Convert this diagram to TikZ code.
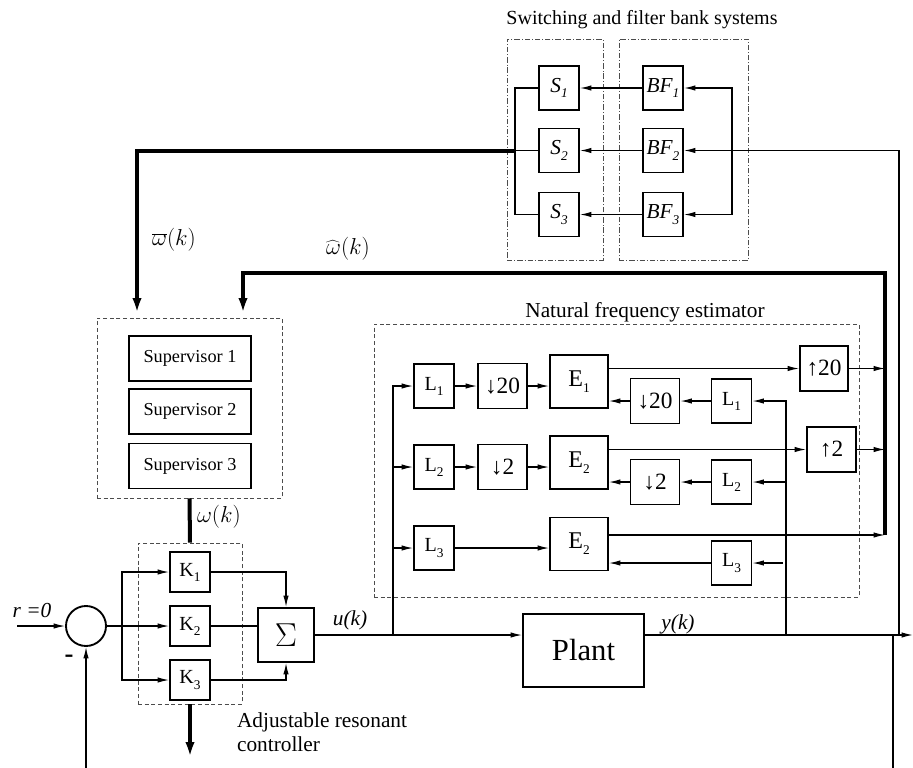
\documentclass[tikz,border=0pt]{standalone}
\usepackage{fontspec}
\setmainfont{Liberation Serif}
\usetikzlibrary{arrows.meta}
\newcommand\lsub[1]{\raisebox{-0.55ex}{\fontsize{10}{11}\selectfont #1}}

\begin{document}
\begin{tikzpicture}[x=0.75pt,y=-0.75pt,line width=0.9pt,
  >={Latex[length=8.5pt,width=4pt]},
  blk/.style={draw,line width=1.4pt,inner sep=0pt,font=\fontsize{15}{17}\selectfont},
  lbox/.style={blk,minimum width=30pt,minimum height=33pt},
  kbox/.style={blk,minimum width=30pt,minimum height=30pt},
  ebox/.style={blk,minimum width=43.5pt,minimum height=39.75pt,font=\fontsize{18}{20}\selectfont},
  rbox/.style={blk,minimum width=36.75pt,minimum height=33.75pt,font=\fontsize{17.5}{20}\selectfont},
  sbox/.style={blk,minimum width=30pt,minimum height=33pt,font=\fontsize{16}{18}\selectfont\itshape},
  supbox/.style={blk,minimum width=91.5pt,minimum height=33.75pt,font=\fontsize{13.7}{16}\selectfont},
  grp/.style={draw=gray!60!black,line width=0.7pt,dash pattern=on 3pt off 2pt,inner sep=0pt},
  ddgrp/.style={draw=gray!60!black,line width=0.7pt,dash pattern=on 4pt off 1.5pt on 0.7pt off 1.5pt,inner sep=0pt},
  bus/.style={line width=3pt},
  busarr/.style={bus,-{Latex[length=15pt,width=6.5pt]}},
  lbl/.style={font=\fontsize{16}{18}\selectfont}]

\useasboundingbox (0,0) rectangle (913,767);

% switching and filter bank
\node[lbl,font=\fontsize{15}{17}\selectfont] (ttlsw) at (642,20) {Switching and filter bank systems};
\node[ddgrp,minimum width=72pt,minimum height=165.75pt] (swgrp) at (555,149.5) {};
\node[ddgrp,minimum width=96.75pt,minimum height=165.75pt] (bfgrp) at (683.5,149.5) {};
\node[sbox] (S1) at (559,88) {S\lsub{1}};
\node[sbox] (S2) at (559,150.5) {S\lsub{2}};
\node[sbox] (S3) at (559,214.5) {S\lsub{3}};
\node[sbox] (BF1) at (663,88) {BF\lsub{1}};
\node[sbox] (BF2) at (663,150.5) {BF\lsub{2}};
\node[sbox] (BF3) at (663,214.5) {BF\lsub{3}};
\coordinate (sbus) at (515,150.5);
\coordinate (bfbus) at (732,150.5);
\draw (sbus) |- (S1.west);
\draw (sbus) -- (S2.west);
\draw (sbus) |- (S3.west);
\draw[->] (BF1.west) -- (S1.east);
\draw[->] (BF2.west) -- (S2.east);
\draw[->] (BF3.west) -- (S3.east);
\draw[->] (bfbus) |- (BF1.east);
\draw[->] (bfbus) |- (BF3.east);

% supervisors
\node[grp,minimum width=138.75pt,minimum height=135pt] (supgrp) at (189.5,408) {};
\node[supbox] (sup1) at (190,358.5) {Supervisor 1};
\node[supbox] (sup2) at (190,411.5) {Supervisor 2};
\node[supbox] (sup3) at (190,466) {Supervisor 3};
\coordinate (supA) at (137,318);
\coordinate (supB) at (243,318);
\draw[busarr] (sbus) -| (supA);
\node[lbl] (wbar) at (174,240) {$\overline{\omega}(k)$};
\node[lbl] (what) at (348,249) {$\widehat{\omega}(k)$};

% natural frequency estimator
\node[lbl] (ttlest) at (645,312) {Natural frequency estimator};
\node[grp,minimum width=363.75pt,minimum height=204.75pt] (estgrp) at (616.5,460.5) {};
\node[lbox] (L1) at (434,386) {L\lsub{1}};
\node[lbox] (L2) at (434,467) {L\lsub{2}};
\node[lbox] (L3) at (434,548) {L\lsub{3}};
\node[rbox] (dn20) at (502.5,386) {↓20};
\node[rbox] (dn2) at (502.5,467) {↓2};
\node[ebox] (E1) at (579,381.5) {E\lsub{1}};
\node[ebox] (E2) at (579,462.5) {E\lsub{2}};
\node[ebox] (E3) at (579,544) {E\lsub{2}};
\node[rbox] (dn20r) at (655,401) {↓20};
\node[rbox] (dn2r) at (655,482) {↓2};
\node[lbox] (L1r) at (731.5,401) {L\lsub{1}};
\node[lbox] (L2r) at (731.5,482) {L\lsub{2}};
\node[lbox] (L3r) at (731.5,563) {L\lsub{3}};
\node[rbox,minimum width=36pt] (up20) at (824,368.5) {↑20};
\node[rbox] (up2) at (831.5,449.5) {↑2};
\coordinate (busTop) at (885,273);
\coordinate (busBot) at (885,535);
\draw[busarr] (busBot) -- (busTop) -| (supB);

\draw[->] (L1.east) -- (dn20.west);
\draw[->] (dn20.east) -- (dn20.east -| E1.west);
\draw[->] (L2.east) -- (dn2.west);
\draw[->] (dn2.east) -- (dn2.east -| E2.west);
\draw[->] (L3.east) -- (L3.east -| E3.west);
\draw[->] (E1.east |- up20.west) -- (up20.west);
\draw[->] (E2.east |- up2.west) -- (up2.west);
\draw[->] (up20.east) -- (up20.east -| busTop);
\draw[->] (up2.east) -- (up2.east -| busTop);
\draw[->] (E3.east |- busBot) -- (busBot);
\draw[->] (L1r.west) -- (dn20r.east);
\draw[->] (dn20r.west) -- (dn20r.west -| E1.east);
\draw[->] (L2r.west) -- (dn2r.east);
\draw[->] (dn2r.west) -- (dn2r.west -| E2.east);
\draw[->] (L3r.west) -- (L3r.west -| E3.east);

% controller
\node[grp,minimum width=78pt,minimum height=120.75pt] (kgrp) at (190,623.5) {};
\node[kbox] (K1) at (190,572) {K\lsub{1}};
\node[kbox] (K2) at (190,626) {K\lsub{2}};
\node[kbox] (K3) at (190,680) {K\lsub{3}};
\node[draw,line width=1.4pt,circle,minimum size=30pt,inner sep=0pt] (cmp) at (86,626) {};
\node[blk,minimum width=42pt,minimum height=40.5pt,font=\fontsize{26}{28}\selectfont] (sum) at (286,635) {$\Sigma$};
\node[blk,minimum width=90.75pt,minimum height=54.75pt,font=\fontsize{23}{25}\selectfont] (plant) at (583.5,650.5) {Plant};
\draw[bus] (supgrp.south) -- (kgrp.north);
\node[lbl,anchor=west] (wk) at (192,517) {$\omega(k)$};
\coordinate (kout) at (190,762);
\draw[busarr] (kgrp.south) -- (kout);
\node[lbl,anchor=north west,align=left] (adj) at (232,708) {Adjustable resonant\\controller};

\coordinate (rin) at (17,626);
\coordinate (split) at (122,626);
\node[lbl,font=\fontsize{16}{18}\selectfont\itshape] (rlbl) at (32,611) {r =0};
\node[font=\fontsize{20}{22}\selectfont\bfseries] (minus) at (69,659) {-};
\draw[->] (rin) -- (cmp.west);
\draw (cmp.east) -- (split);
\draw[->] (split) |- (K1.west);
\draw[->] (split) -- (K2.west);
\draw[->] (split) |- (K3.west);
\draw[->] (K1.east) -| (sum.north);
\draw (K2.east) -- (K2.east -| sum.west);
\draw[->] (K3.east) -| (sum.south);
\draw[->] (sum.east) -- (sum.east -| plant.west);
\node[lbl,font=\fontsize{16}{18}\selectfont\itshape] (ulbl) at (350,620) {u(k)};
\node[lbl,font=\fontsize{16}{18}\selectfont\itshape] (ylbl) at (678,624) {y(k)};

% taps
\coordinate (utap) at (393,635);
\coordinate (tapE) at (786,635);
\coordinate (fb) at (893,635);
\coordinate (tapR) at (899,635);
\coordinate (yout) at (913,635);
\coordinate (stub3) at (783,563);
\draw[->] (utap) |- (L1.west);
\draw[->] (utap |- L2.west) -- (L2.west);
\draw[->] (utap |- L3.west) -- (L3.west);
\draw[->] (tapE) |- (L1r.east);
\draw[->] (tapE |- L2r.east) -- (L2r.east);
\draw[->] (stub3) -- (L3r.east);
\draw[->] (tapR) |- (BF2.east);
\draw[->] (plant.east |- utap) -- (yout);
\draw[->] (fb) -- (893,790) -| (cmp.south);

\end{tikzpicture}
\end{document}
